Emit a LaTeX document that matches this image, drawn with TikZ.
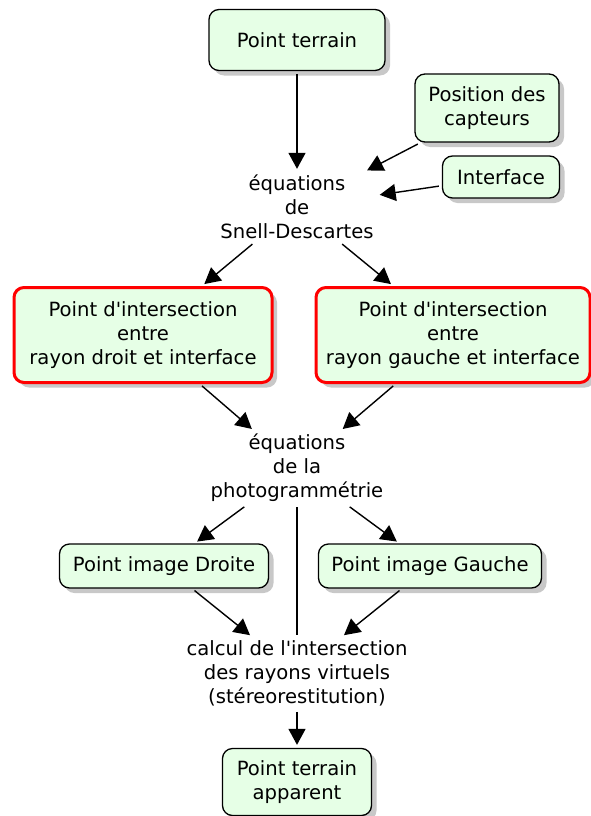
\documentclass[tikz,border=0pt]{standalone}
\usepackage{fontspec}
\setmainfont{DejaVu Sans}
\usetikzlibrary{arrows.meta, positioning, shadows}
\definecolor{boxgreen}{RGB}{230, 255, 230}
\definecolor{shadowgray}{RGB}{200, 200, 200}
\newcommand{\apos}{\textquotesingle}

\begin{document}
\begin{tikzpicture}[
        x=1pt, y=1pt,
        node distance=100pt, on grid,
        every node/.style={font=\fontsize{19.6}{24}\selectfont},
        box/.style={rectangle, rounded corners=10pt, align=center, inner sep=0pt, draw=black, line width=1.3pt, fill=boxgreen, drop shadow={shadow xshift=5pt, shadow yshift=-5pt, fill=shadowgray, opacity=1}},
        redbox/.style={box, draw=red, line width=3pt},
        eqn/.style={align=center, inner sep=3pt},
        arrow/.style={line width=1.4pt, -{Triangle[length=16pt,width=17pt]}, shorten >=3pt, shorten <=3pt},
        link/.style={line width=1.4pt, shorten >=2pt, shorten <=2pt}
    ]
        \useasboundingbox (0,0) rectangle (590,-816);

        \node[box, minimum width=176pt, minimum height=61pt] (terrain) at (297,-40) {Point terrain};
        \node[box, minimum width=144pt, minimum height=68pt, below right=68pt and 190pt of terrain] (capteurs) {Position des\\capteurs};
        \node[box, minimum width=117pt, minimum height=42pt, below right=69pt and 14pt of capteurs] (interface) {Interface};
        \node[eqn, below=167pt of terrain] (snell) {équations\\de\\Snell-Descartes};

        \node[redbox, minimum width=258pt, minimum height=95pt, below left=128pt and 154pt of snell] (intdroit) {Point d\apos intersection\\entre\\rayon droit et interface};
        \node[redbox, minimum width=274pt, minimum height=95pt, below right=128pt and 156pt of snell] (intgauche) {Point d\apos intersection\\entre\\rayon gauche et interface};
        \node[eqn, below=261pt of snell] (photo) {équations\\de la\\photogrammétrie};

        \node[box, minimum width=209pt, minimum height=44pt, below left=98pt and 133pt of photo] (imdroite) {Point image Droite};
        \node[box, minimum width=223pt, minimum height=44pt, below right=98pt and 133pt of photo] (imgauche) {Point image Gauche};
        \node[eqn, below=205pt of photo] (calc) {calcul de l\apos intersection\\des rayons virtuels\\(stéreorestitution)};
        \node[box, minimum width=149pt, minimum height=67pt, below=109pt of calc] (apparent) {Point terrain\\apparent};

        \draw[arrow] (terrain) -- (snell);
        \draw[arrow] (capteurs) -- (snell);
        \draw[arrow] (interface) -- (snell);
        \draw[arrow] (snell) -- (intdroit);
        \draw[arrow] (snell) -- (intgauche);
        \draw[arrow] (intdroit) -- (photo);
        \draw[arrow] (intgauche) -- (photo);
        \draw[arrow] (photo) -- (imdroite);
        \draw[arrow] (photo) -- (imgauche);
        \draw[link] (photo) -- (calc);
        \draw[arrow] (imdroite) -- (calc);
        \draw[arrow] (imgauche) -- (calc);
        \draw[arrow] (calc) -- (apparent);

    \end{tikzpicture}
\end{document}
